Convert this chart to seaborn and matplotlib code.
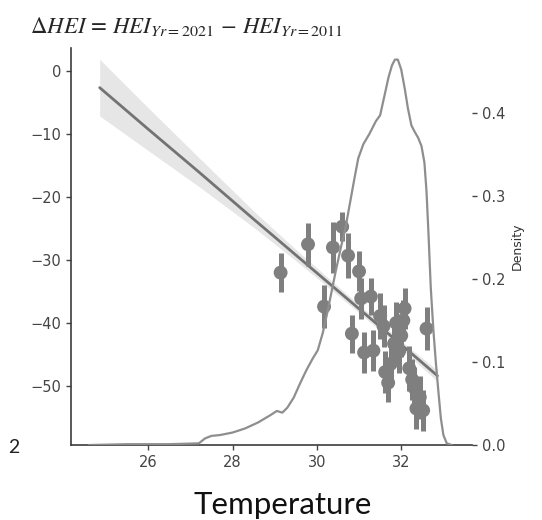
import matplotlib
matplotlib.use("Agg")
import matplotlib.pyplot as plt
import seaborn as sns


# binned temperature means with their confidence bars
TEMP = [29.14, 29.79, 30.17, 30.38, 30.60, 30.74, 31.00, 30.83, 31.05, 31.28,
        31.12, 31.34, 31.50, 31.58, 31.69, 31.75, 31.83, 31.88, 31.95, 32.05,
        32.08, 32.19, 32.26, 32.31, 32.36, 32.44, 32.52, 32.60, 31.62, 32.00]
DHEI = [-32.0, -27.5, -37.4, -28.0, -24.7, -29.3, -31.8, -41.7, -36.1, -35.8,
        -44.7, -44.4, -38.9, -40.5, -49.5, -46.5, -43.3, -40.0, -44.5, -39.6,
        -37.7, -47.2, -49.0, -50.3, -53.6, -51.8, -53.9, -40.9, -47.8, -42.0]
DHEI_ERR = [3.1, 3.4, 3.4, 4.0, 2.3, 3.6, 3.2, 3.0, 3.2, 3.0,
            3.2, 3.3, 3.6, 3.4, 3.0, 3.4, 3.4, 3.3, 3.5, 3.3,
            3.3, 3.6, 3.3, 3.3, 3.2, 3.4, 3.2, 3.4, 3.3, 3.4]

# linear fit and its confidence band
FIT_X = [24.85, 26.0, 27.2, 28.5, 29.5, 30.5, 31.5, 32.2, 32.86]
FIT_Y = [-2.6, -9.2, -16.0, -23.5, -29.2, -34.9, -40.6, -44.6, -48.4]
BAND_LO = [-7.1, -12.6, -18.3, -24.8, -30.1, -35.6, -41.2, -45.3, -49.3]
BAND_HI = [1.9, -5.8, -13.7, -22.2, -28.3, -34.2, -40.0, -44.0, -47.5]

# temperature density curve
KDE_X = [24.6, 25.5, 26.5, 27.2, 27.35, 27.5, 27.7, 28.0, 28.3, 28.6, 28.9,
         29.05, 29.18, 29.3, 29.45, 29.6, 29.75, 29.9, 30.02, 30.14, 30.25,
         30.35, 30.45, 30.57, 30.68, 30.78, 30.88, 30.98, 31.1, 31.25, 31.4,
         31.5, 31.6, 31.7, 31.78, 31.85, 31.92, 32.0, 32.08, 32.16, 32.24,
         32.32, 32.4, 32.48, 32.55, 32.6, 32.65, 32.7, 32.76, 32.82, 32.88,
         32.94, 33.0, 33.08, 33.2]
KDE_D = [0.0, 0.001, 0.001, 0.002, 0.008, 0.011, 0.012, 0.015, 0.020, 0.027,
         0.036, 0.041, 0.039, 0.045, 0.057, 0.074, 0.090, 0.104, 0.114, 0.135,
         0.160, 0.185, 0.210, 0.238, 0.262, 0.290, 0.318, 0.345, 0.362, 0.375,
         0.390, 0.397, 0.420, 0.443, 0.457, 0.464, 0.464, 0.452, 0.430, 0.405,
         0.385, 0.377, 0.370, 0.360, 0.340, 0.305, 0.250, 0.190, 0.140, 0.100,
         0.065, 0.032, 0.012, 0.002, 0.0]

X_TICKS = [26, 28, 30, 32]
Y_TICKS = [0, -10, -20, -30, -40, -50]
D_TICKS = [0.0, 0.1, 0.2, 0.3, 0.4]

POINT_COLOR = "#7f7f7f"
LINE_COLOR = "#737373"
KDE_COLOR = "#8e8e8e"
SPINE_COLOR = "#3c3c3c"


def main() -> None:
    sns.set_theme(style="ticks")
    plt.rcParams["font.family"] = ["DejaVu Sans"]

    fig = plt.figure(figsize=(5.42, 5.20), dpi=100)
    ax = fig.add_axes([0.131, 0.1442, 0.740, 0.7635])

    ax.fill_between(FIT_X, BAND_LO, BAND_HI, color="#e6e6e6", lw=0, zorder=1)
    sns.lineplot(x=FIT_X, y=FIT_Y, ax=ax, color=LINE_COLOR, lw=2.0, zorder=2)
    ax.vlines(TEMP, [m - e for m, e in zip(DHEI, DHEI_ERR)],
              [m + e for m, e in zip(DHEI, DHEI_ERR)],
              color=POINT_COLOR, lw=3.6, zorder=3)
    sns.scatterplot(x=TEMP, y=DHEI, ax=ax, color=POINT_COLOR, s=100,
                    edgecolor="none", zorder=4)

    ax.set_xlim(24.17, 33.68)
    ax.set_ylim(-59.4, 3.7)
    ax.set_xticks(X_TICKS)
    ax.set_yticks(Y_TICKS)
    ax.set_xlabel("")
    ax.set_ylabel("")
    ax.tick_params(labelsize=10.5, colors="#444444", length=3.5, width=1)
    for side in ["top", "right"]:
        ax.spines[side].set_visible(False)
    for side in ["left", "bottom"]:
        ax.spines[side].set_color(SPINE_COLOR)
        ax.spines[side].set_linewidth(1.2)

    ax2 = ax.twinx()
    sns.lineplot(x=KDE_X, y=KDE_D, ax=ax2, color=KDE_COLOR, lw=1.6)
    ax2.set_ylim(0, 0.478)
    ax2.set_yticks(D_TICKS)
    ax2.set_yticklabels([f"{t:.1f}" for t in D_TICKS])
    ax2.set_ylabel("Density", fontsize=9, color="#333333", labelpad=4)
    ax2.tick_params(labelsize=10.5, colors="#444444", length=3.5, width=1)
    for side in ["top", "right", "left", "bottom"]:
        ax2.spines[side].set_visible(False)

    fig.text(0.055, 0.937, r"$\Delta HEI\,=\,HEI_{Yr=2021}\,-\,HEI_{Yr=2011}$",
             fontsize=16.5, math_fontfamily="stix", va="baseline", ha="left")
    fig.text(0.522, 0.012, "Temperature", fontsize=22.5, family=["Lato", "DejaVu Sans"],
             ha="center", va="baseline", color="#111111")
    fig.text(0.015, 0.128, "2", fontsize=14, family=["Lato", "DejaVu Sans"],
             ha="left", va="baseline", color="#222222")

    fig.savefig("out.png", dpi=100)
    plt.close(fig)


if __name__ == "__main__":
    main()
